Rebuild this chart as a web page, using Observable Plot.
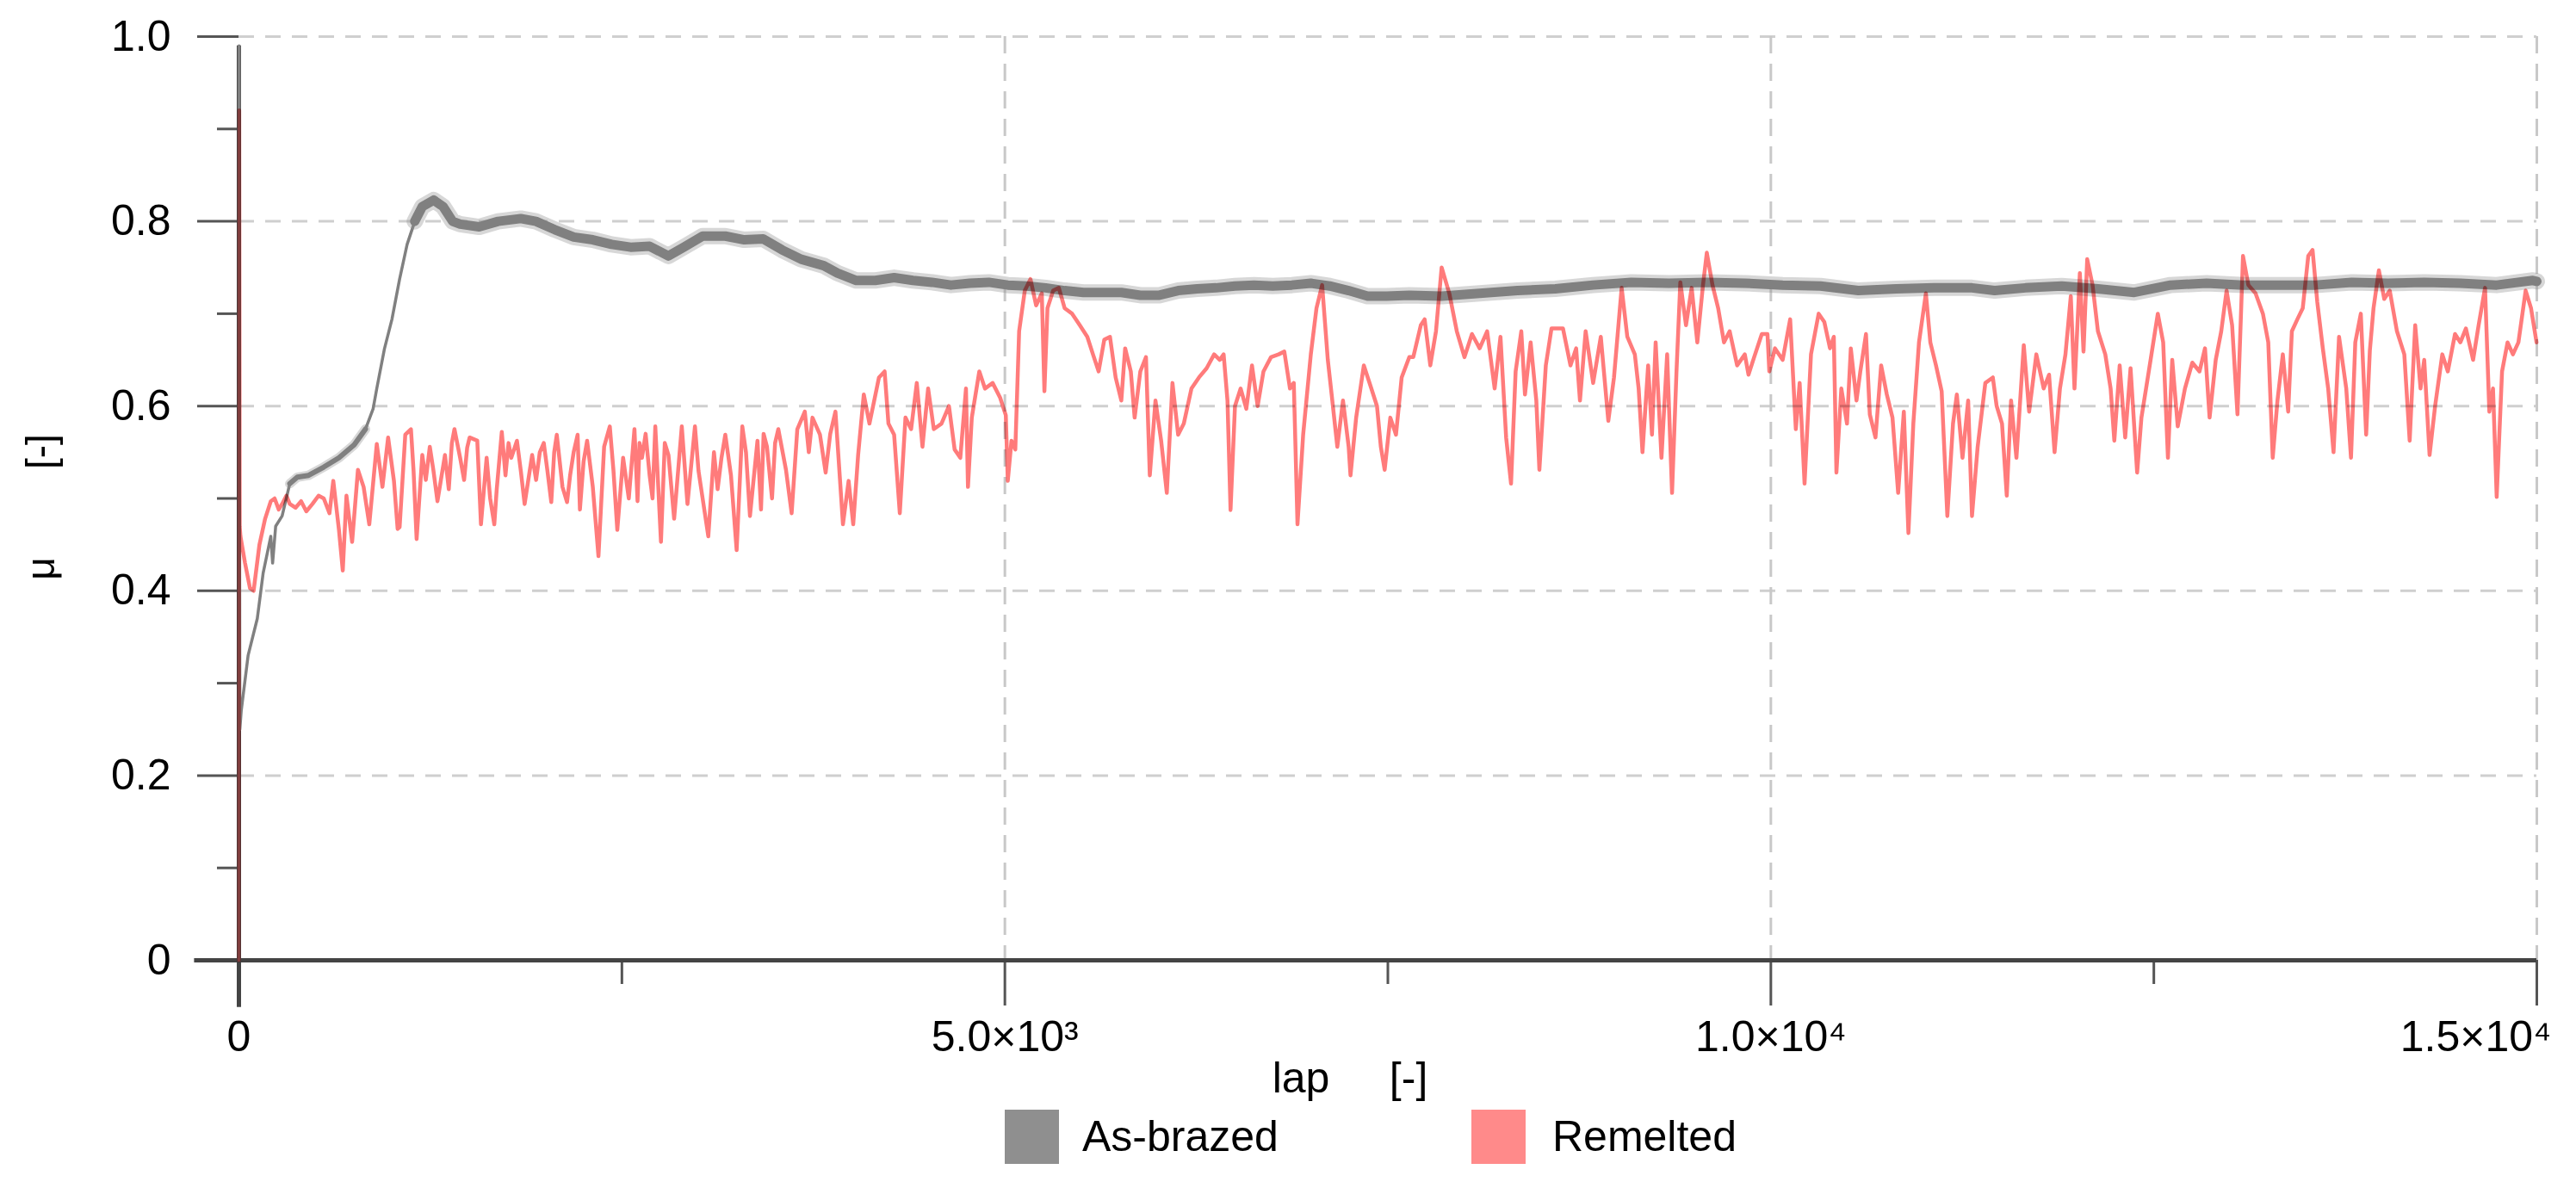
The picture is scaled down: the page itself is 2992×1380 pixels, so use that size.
<!DOCTYPE html>
<html><head><meta charset="utf-8">
<script src="https://cdn.jsdelivr.net/npm/d3@7"></script>
<script src="https://cdn.jsdelivr.net/npm/@observablehq/plot@0.6"></script>
<style>
body{margin:0;background:#fff;font-family:"Liberation Sans",Arial,sans-serif;}
#legend{position:relative;width:2992px;height:95px;}
.sw{position:absolute;top:4px;width:63px;height:63px;}
.lt{position:absolute;top:0;height:71px;line-height:71px;font-size:50px;color:#000;white-space:nowrap;}
</style></head><body>
<div id="chart"></div>
<div id="legend"></div>
<script>
// ---- data (lap, μ) ----
const asBrazed = [[0,0],[1,0.99],[6,0.25],[15,0.27],[60,0.33],[120,0.37],[158,0.419],[208,0.459],[220,0.43],[240,0.47],[282,0.481],[332,0.516],[381,0.523],[455,0.525],[554,0.534],[653,0.544],[752,0.558],[826,0.575],[876,0.597],[900,0.619],[950,0.662],[999,0.694],[1049,0.7375],[1098,0.775],[1148,0.80],[1197,0.816],[1271,0.823],[1333,0.816],[1395,0.80],[1444,0.797],[1568,0.794],[1692,0.80],[1840,0.803],[1939,0.80],[2062,0.791],[2186,0.783],[2310,0.78],[2433,0.775],[2557,0.772],[2681,0.773],[2804,0.7625],[2903,0.772],[3027,0.784],[3175,0.784],[3299,0.78],[3422,0.781],[3546,0.769],[3670,0.759],[3818,0.752],[3906,0.744],[4030,0.736],[4153,0.736],[4277,0.739],[4400,0.736],[4524,0.734],[4648,0.731],[4771,0.733],[4895,0.734],[5019,0.731],[5142,0.730],[5266,0.728],[5390,0.725],[5513,0.723],[5637,0.723],[5760,0.723],[5884,0.720],[6008,0.720],[6131,0.725],[6255,0.727],[6378,0.728],[6502,0.730],[6626,0.731],[6749,0.730],[6873,0.731],[6997,0.733],[7120,0.730],[7244,0.725],[7368,0.719],[7491,0.719],[7640,0.720],[7851,0.719],[8099,0.722],[8346,0.725],[8593,0.727],[8840,0.731],[9088,0.734],[9335,0.733],[9582,0.734],[9830,0.733],[10077,0.731],[10324,0.730],[10571,0.725],[10819,0.727],[11066,0.728],[11313,0.728],[11461,0.725],[11662,0.728],[11899,0.730],[12135,0.727],[12372,0.723],[12609,0.731],[12845,0.733],[13082,0.731],[13318,0.731],[13555,0.731],[13792,0.734],[14028,0.733],[14265,0.734],[14501,0.733],[14738,0.731],[14974,0.736],[15000,0.735]];

const remelted = [[0,0],[2,0.92],[5,0.47],[10,0.459],[40,0.43],[72,0.403],[96,0.40],[134,0.45],[171,0.478],[208,0.497],[233,0.50],[260,0.488],[282,0.494],[310,0.503],[332,0.494],[370,0.49],[406,0.497],[440,0.486],[480,0.494],[520,0.503],[554,0.50],[591,0.484],[616,0.519],[653,0.466],[678,0.422],[702,0.503],[739,0.453],[777,0.531],[814,0.5125],[851,0.472],[900,0.559],[937,0.5125],[974,0.566],[1012,0.519],[1036,0.467],[1049,0.469],[1086,0.569],[1123,0.575],[1140,0.53],[1160,0.456],[1197,0.547],[1220,0.52],[1246,0.556],[1270,0.53],[1296,0.497],[1345,0.547],[1370,0.51],[1390,0.56],[1407,0.575],[1444,0.544],[1470,0.52],[1490,0.555],[1506,0.566],[1556,0.5625],[1580,0.472],[1617,0.544],[1640,0.50],[1667,0.472],[1683,0.51],[1716,0.572],[1740,0.525],[1760,0.56],[1778,0.544],[1815,0.5625],[1840,0.53],[1865,0.494],[1914,0.547],[1940,0.52],[1964,0.55],[1990,0.56],[2013,0.531],[2039,0.496],[2058,0.55],[2075,0.569],[2112,0.5125],[2142,0.496],[2162,0.525],[2185,0.55],[2211,0.569],[2226,0.488],[2250,0.54],[2273,0.5625],[2310,0.5125],[2347,0.4375],[2384,0.556],[2421,0.578],[2445,0.53],[2470,0.466],[2508,0.544],[2545,0.50],[2582,0.575],[2602,0.497],[2615,0.56],[2631,0.544],[2655,0.57],[2681,0.525],[2700,0.50],[2718,0.578],[2755,0.453],[2780,0.56],[2804,0.547],[2841,0.478],[2891,0.578],[2928,0.494],[2977,0.578],[3000,0.53],[3027,0.50],[3064,0.459],[3101,0.55],[3125,0.51],[3150,0.544],[3175,0.569],[3212,0.525],[3249,0.444],[3286,0.578],[3310,0.55],[3336,0.481],[3385,0.5625],[3408,0.488],[3425,0.57],[3447,0.556],[3480,0.50],[3500,0.56],[3521,0.575],[3571,0.531],[3608,0.484],[3645,0.575],[3694,0.594],[3720,0.55],[3744,0.5875],[3793,0.569],[3830,0.528],[3860,0.57],[3894,0.594],[3943,0.472],[3980,0.519],[4010,0.472],[4042,0.547],[4079,0.6125],[4116,0.581],[4178,0.631],[4215,0.6375],[4240,0.581],[4277,0.569],[4314,0.484],[4351,0.5875],[4388,0.575],[4425,0.625],[4462,0.556],[4499,0.619],[4536,0.575],[4586,0.581],[4635,0.60],[4672,0.553],[4709,0.544],[4746,0.619],[4759,0.5125],[4784,0.5875],[4833,0.6375],[4870,0.619],[4920,0.625],[4969,0.609],[5006,0.59],[5019,0.519],[5043,0.5625],[5068,0.553],[5093,0.681],[5130,0.725],[5167,0.7375],[5204,0.709],[5241,0.722],[5258,0.616],[5278,0.706],[5315,0.725],[5352,0.728],[5390,0.706],[5439,0.70],[5489,0.6875],[5538,0.675],[5575,0.656],[5612,0.6375],[5649,0.672],[5686,0.675],[5723,0.631],[5760,0.606],[5785,0.6625],[5822,0.6375],[5847,0.5875],[5884,0.6375],[5921,0.653],[5946,0.525],[5983,0.606],[6020,0.5625],[6057,0.506],[6094,0.625],[6131,0.569],[6168,0.581],[6218,0.619],[6267,0.631],[6317,0.641],[6366,0.656],[6403,0.65],[6428,0.656],[6453,0.606],[6473,0.4875],[6502,0.60],[6539,0.619],[6576,0.597],[6613,0.644],[6650,0.60],[6688,0.6375],[6737,0.653],[6787,0.656],[6824,0.659],[6861,0.619],[6886,0.625],[6910,0.472],[6947,0.569],[6997,0.656],[7034,0.706],[7071,0.731],[7108,0.65],[7133,0.6125],[7170,0.556],[7207,0.606],[7244,0.556],[7256,0.525],[7293,0.5875],[7343,0.644],[7392,0.619],[7429,0.60],[7454,0.556],[7479,0.531],[7516,0.5875],[7553,0.569],[7590,0.631],[7640,0.653],[7666,0.653],[7715,0.6875],[7740,0.694],[7777,0.644],[7814,0.681],[7851,0.75],[7901,0.722],[7950,0.681],[8000,0.653],[8049,0.678],[8099,0.6625],[8148,0.681],[8197,0.619],[8235,0.675],[8272,0.566],[8304,0.516],[8334,0.6375],[8371,0.681],[8395,0.6125],[8432,0.669],[8469,0.606],[8489,0.531],[8531,0.644],[8568,0.684],[8643,0.684],[8692,0.644],[8729,0.6625],[8754,0.606],[8791,0.681],[8840,0.625],[8890,0.675],[8939,0.584],[8976,0.631],[9026,0.728],[9063,0.675],[9112,0.656],[9137,0.619],[9162,0.55],[9199,0.644],[9224,0.569],[9248,0.669],[9286,0.544],[9323,0.656],[9355,0.506],[9384,0.6375],[9409,0.734],[9446,0.6875],[9483,0.728],[9520,0.669],[9557,0.731],[9582,0.766],[9619,0.731],[9656,0.706],[9694,0.669],[9731,0.681],[9780,0.644],[9830,0.656],[9854,0.634],[9891,0.653],[9941,0.678],[9978,0.678],[9990,0.6375],[10027,0.6625],[10077,0.65],[10126,0.694],[10163,0.575],[10188,0.625],[10220,0.516],[10262,0.656],[10312,0.70],[10349,0.691],[10386,0.6625],[10411,0.675],[10428,0.528],[10460,0.619],[10497,0.581],[10522,0.6625],[10559,0.606],[10584,0.6375],[10621,0.678],[10646,0.591],[10683,0.566],[10720,0.644],[10757,0.6125],[10794,0.5875],[10831,0.506],[10868,0.594],[10898,0.4625],[10930,0.581],[10967,0.669],[11012,0.722],[11041,0.669],[11078,0.644],[11115,0.616],[11152,0.481],[11189,0.581],[11214,0.6125],[11251,0.544],[11288,0.606],[11313,0.481],[11350,0.556],[11400,0.625],[11449,0.631],[11474,0.60],[11509,0.581],[11540,0.503],[11568,0.606],[11603,0.544],[11651,0.666],[11686,0.594],[11733,0.656],[11781,0.619],[11816,0.634],[11852,0.55],[11887,0.619],[11923,0.656],[11958,0.719],[11982,0.619],[12017,0.744],[12041,0.659],[12065,0.759],[12100,0.731],[12135,0.681],[12183,0.656],[12218,0.619],[12242,0.5625],[12277,0.644],[12313,0.566],[12348,0.641],[12391,0.528],[12419,0.5875],[12467,0.6375],[12526,0.70],[12561,0.669],[12592,0.544],[12620,0.65],[12656,0.578],[12703,0.619],[12751,0.647],[12798,0.6375],[12834,0.6625],[12864,0.5875],[12904,0.65],[12940,0.681],[12975,0.725],[13011,0.6875],[13046,0.591],[13082,0.7625],[13117,0.731],[13164,0.722],[13212,0.70],[13247,0.669],[13276,0.544],[13307,0.606],[13342,0.656],[13377,0.594],[13401,0.681],[13437,0.694],[13472,0.706],[13508,0.7625],[13536,0.769],[13567,0.7125],[13603,0.6625],[13638,0.619],[13673,0.55],[13709,0.675],[13756,0.619],[13787,0.544],[13815,0.669],[13851,0.70],[13886,0.569],[13910,0.66],[13934,0.706],[13969,0.747],[14004,0.716],[14040,0.725],[14087,0.681],[14135,0.656],[14170,0.5625],[14206,0.6875],[14241,0.619],[14265,0.65],[14300,0.547],[14336,0.60],[14383,0.656],[14419,0.6375],[14466,0.678],[14501,0.669],[14537,0.684],[14584,0.65],[14620,0.6875],[14662,0.728],[14690,0.594],[14714,0.619],[14738,0.5016],[14773,0.6375],[14809,0.669],[14844,0.656],[14880,0.669],[14927,0.725],[14962,0.706],[14998,0.669]];

const xTicks = [0, 5000, 10000, 15000];
const xTickLabels = ["0", "5.0×10³", "1.0×10⁴", "1.5×10⁴"];
const xMinorTicks = [2500, 7500, 12500];
const yTicks = [0, 0.2, 0.4, 0.6, 0.8, 1.0];
const yTickLabels = ["0", "0.2", "0.4", "0.6", "0.8", "1.0"];
const yMinorTicks = [0.1, 0.3, 0.5, 0.7, 0.9];
const xGridValues = [5000, 10000, 15000];
const yGridValues = [0.2, 0.4, 0.6, 0.8, 1.0];
const seriesNames = ["As-brazed", "Remelted"];
const seriesColors = ["#8f8f8f", "#ff8a8a"];
const xLabel = "lap", yLabel = "μ", unitLabel = "[-]";

const NB = "\u00a0";
const gray = "#808080", grayHalo = "#8c8c8c", pink = "#ff7b7b", axisCol = "#444", tickCol = "#555";
const seg = (a, b) => asBrazed.filter(d => d[0] >= a && d[0] <= b);
const lastX = xTicks[xTicks.length - 1];
const xy = {x: d => d[0], y: d => d[1]};

const chart = Plot.plot({
  width: 2992, height: 1285,
  marginLeft: 277, marginRight: 46, marginTop: 42, marginBottom: 170,
  x: {domain: [0, 15000]},
  y: {domain: [0, 1]},
  style: {fontFamily: '"Liberation Sans", Arial, sans-serif', fontSize: "50px", color: "#000", background: "#fff", overflow: "visible"},
  marks: [
    Plot.gridY(yGridValues, {stroke: "#cfcfcf", strokeOpacity: 1, strokeWidth: 3, strokeDasharray: "18,13"}),
    Plot.gridX(xGridValues, {stroke: "#c8c8c8", strokeOpacity: 1, strokeWidth: 3, strokeDasharray: "20,12"}),
    Plot.axisY(yMinorTicks, {tickSize: 25, tickFormat: () => "", stroke: tickCol, strokeWidth: 3, label: null}),
    Plot.axisY(yTicks, {tickSize: 48, tickPadding: 31, tickFormat: d => yTickLabels[yTicks.indexOf(d)], stroke: tickCol, strokeWidth: 3, fontSize: 50, label: null}),
    Plot.axisX(xMinorTicks, {tickSize: 28, tickFormat: () => "", stroke: tickCol, strokeWidth: 3, label: null}),
    Plot.axisX(xTicks, {tickSize: 53, tickPadding: 17, tickFormat: d => d === lastX ? "" : xTickLabels[xTicks.indexOf(d)], stroke: tickCol, strokeWidth: 3, fontSize: 50, label: null}),
    Plot.text([lastX], {x: d => d, text: () => xTickLabels[xTicks.length - 1], frameAnchor: "bottom", lineAnchor: "top", textAnchor: "end", dx: 17, dy: 70, fontSize: 50, fill: "#000"}),
    Plot.ruleY([0], {x1: -290, x2: 15000, stroke: axisCol, strokeWidth: 5}),
    Plot.ruleX([0], {y1: -0.051, y2: 0.99, stroke: axisCol, strokeWidth: 5}),
    Plot.line(seg(0, 332), {...xy, stroke: gray, strokeWidth: 3.5}),
    Plot.line(seg(332, 850), {...xy, stroke: grayHalo, strokeOpacity: 0.35, strokeWidth: 11}),
    Plot.line(seg(332, 850), {...xy, stroke: gray, strokeWidth: 6}),
    Plot.line(seg(826, 1148), {...xy, stroke: gray, strokeWidth: 3.5}),
    Plot.line(seg(1148, 15000), {...xy, stroke: grayHalo, strokeOpacity: 0.35, strokeWidth: 19, strokeLinejoin: "round"}),
    Plot.line(seg(1148, 15000), {...xy, stroke: gray, strokeWidth: 11, strokeLinejoin: "round"}),
    Plot.line(remelted, {...xy, stroke: pink, strokeWidth: 4.5, strokeLinejoin: "round", mixBlendMode: "multiply"}),
    Plot.text([yLabel + NB.repeat(8) + unitLabel], {text: d => d, frameAnchor: "left", textAnchor: "middle", lineAnchor: "middle", dx: -229, dy: 10, rotate: -90, fontSize: 46, fill: "#000"}),
    Plot.text([xLabel + NB.repeat(5) + unitLabel], {text: d => d, frameAnchor: "bottom", textAnchor: "middle", lineAnchor: "middle", dx: -44, dy: 137, fontSize: 50, fill: "#000"})
  ]
});
document.getElementById("chart").appendChild(chart);

// legend (HTML, below the SVG)
const legend = document.getElementById("legend");
const swLeft = [1167, 1709], txLeft = [1257, 1803];
seriesNames.forEach((name, i) => {
  const s = document.createElement("div");
  s.className = "sw"; s.style.left = swLeft[i] + "px"; s.style.background = seriesColors[i];
  legend.appendChild(s);
  const t = document.createElement("div");
  t.className = "lt"; t.style.left = txLeft[i] + "px"; t.textContent = name;
  legend.appendChild(t);
});
</script>
</body></html>
